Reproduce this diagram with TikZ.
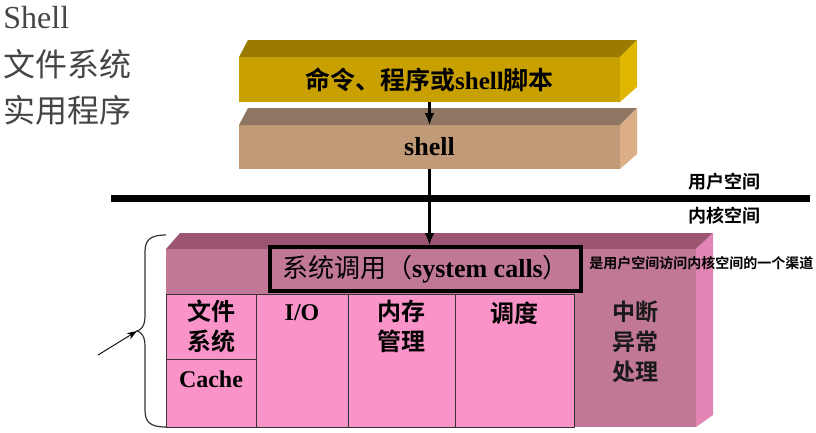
\documentclass[tikz,border=0pt]{standalone}
\usepackage{fontspec}
\setmainfont{Liberation Serif}
\newfontfamily\cjk{Noto Sans CJK SC}[BoldFont={Noto Sans CJK SC Bold}]
\usepackage{tikz}
\usetikzlibrary{arrows.meta}

\definecolor{cmdfront}{HTML}{C8A000}
\definecolor{cmdtop}{HTML}{9A7B00}
\definecolor{cmdside}{HTML}{DFB600}
\definecolor{shellfront}{HTML}{C19A77}
\definecolor{shelltop}{HTML}{8F7662}
\definecolor{shellside}{HTML}{DCAE88}
\definecolor{kernfront}{HTML}{C17896}
\definecolor{kerntop}{HTML}{9B5573}
\definecolor{kernside}{HTML}{E284B4}
\definecolor{cellpink}{HTML}{FA94C8}
\definecolor{titlegrey}{HTML}{454545}

\begin{document}
\begin{tikzpicture}[x=1pt, y=-1pt, >={Latex[length=12pt,width=10pt]}, thick,
                front/.style={inner sep=0pt, outer sep=0pt},
                cell/.style={draw=black!80, line width=1pt, fill=cellpink, inner sep=0pt, outer sep=0pt, anchor=north west},
                cjk label/.style={font=\cjk\bfseries\fontsize{24}{30}\selectfont, align=center, inner sep=0pt},
                latin label/.style={font=\bfseries\fontsize{24}{30}\selectfont, inner sep=0pt},
                title/.style={anchor=west, inner sep=0pt, text=titlegrey}]

  \useasboundingbox (0,0) rectangle (816,432);

  % titles on the left
  \node[title, anchor=base west, font=\fontsize{32}{36}\selectfont] (shelltitle) at (3,28) {Shell};
  \node[title, font=\cjk\fontsize{32}{36}\selectfont] (fstitle) at (3,64) {文件系统};
  \node[title, font=\cjk\fontsize{32}{36}\selectfont] (utiltitle) at (3,110) {实用程序};

  % user space boxes
  \node[front, fill=cmdfront, minimum width=381pt, minimum height=45pt,
        font=\bfseries\fontsize{25}{30}\selectfont] (cmd) at (429.5,79.5) {{\cjk 命令、程序或}shell{\cjk 脚本}};
  \fill[cmdtop] (cmd.north west) -- ++(9,-17) -- ([shift={(17,-17)}]cmd.north east) -- (cmd.north east) -- cycle;
  \fill[cmdside] (cmd.north east) -- ++(17,-17) -- ++(0,47) -- (cmd.south east) -- cycle;

  \node[front, fill=shellfront, minimum width=381pt, minimum height=44pt,
        font=\bfseries\fontsize{26}{30}\selectfont] (shell) at (429.5,147) {shell};
  \fill[shelltop] (shell.north west) -- ++(9,-17) -- ([shift={(17,-17)}]shell.north east) -- (shell.north east) -- cycle;
  \fill[shellside] (shell.north east) -- ++(17,-17) -- ++(0,46) -- (shell.south east) -- cycle;

  % divider
  \coordinate (divleft) at (111,198);
  \coordinate (divright) at (810,198);
  \draw[line width=7pt] (divleft) -- (divright);
  \node[anchor=west, inner sep=0pt, font=\cjk\bfseries\fontsize{18}{20}\selectfont] (userspace) at (688,182) {用户空间};
  \node[anchor=west, inner sep=0pt, font=\cjk\bfseries\fontsize{18}{20}\selectfont] (kernspace) at (688,216) {内核空间};

  % kernel box
  \node[front, fill=kernfront, minimum width=530pt, minimum height=178pt] (kernel) at (431,338) {};
  \fill[kerntop] (kernel.north west) -- ++(14,-16) -- ([shift={(17,-16)}]kernel.north east) -- (kernel.north east) -- cycle;
  \fill[kernside] (kernel.north east) -- ++(17,-16) -- ++(0,182) -- (kernel.south east) -- cycle;

  \node[cell, minimum width=90pt, minimum height=65pt] (fs) at (166,294) {};
  \node[cell, minimum width=90pt, minimum height=68pt] (cache) at (166,359) {};
  \node[cell, minimum width=92pt, minimum height=133pt] (io) at (256,294) {};
  \node[cell, minimum width=107pt, minimum height=133pt] (mem) at (348,294) {};
  \node[cell, minimum width=119pt, minimum height=133pt] (sched) at (455,294) {};

  \node[cjk label] (fslbl) at (fs.center) {文件\\系统};
  \node[latin label] (cachelbl) at ([yshift=-20pt]cache.north) {Cache};
  \node[latin label] (iolbl) at ([yshift=-19pt]io.north) {I/O};
  \node[cjk label] (memlbl) at ([yshift=-32pt]mem.north) {内存\\管理};
  \node[cjk label] (schedlbl) at ([yshift=-19pt]sched.north) {调度};
  \node[cjk label, font=\cjk\bfseries\fontsize{23}{30}\selectfont, text=black!90] (irqlbl) at (635,342) {中断\\异常\\处理};

  \node[draw, line width=4pt, minimum width=311pt, minimum height=44pt, inner sep=0pt,
        font=\fontsize{26}{30}\selectfont] (syscall) at (425.5,269) {{\cjk 系统调用（}\textbf{system calls}{\cjk ）}};
  \node[anchor=west, inner sep=0pt, font=\cjk\bfseries\fontsize{14}{16}\selectfont] (note) at (589,263) {是用户空间访问内核空间的一个渠道};

  % arrows
  \path[->, line width=2.5pt]
    (cmd) edge (shell)
    (shell.south) edge (shell.south |- syscall.north);

  % brace and pointer
  \coordinate (bracetip) at (137,331);
  \coordinate (pointer) at (98,355);
  \draw[line width=1.2pt, black!80] (166,235) .. controls (150,235) and (145,240) .. (145,252) -- (145,316)
    .. controls (145,326) and (141,330) .. (bracetip) .. controls (141,332) and (145,336) .. (145,346) -- (145,410)
    .. controls (145,422) and (150,427) .. (166,427);
  \draw[-{Stealth[length=10pt,width=7pt,inset=3pt]}, line width=0.9pt] (pointer) -- (bracetip);
\end{tikzpicture}
\end{document}
